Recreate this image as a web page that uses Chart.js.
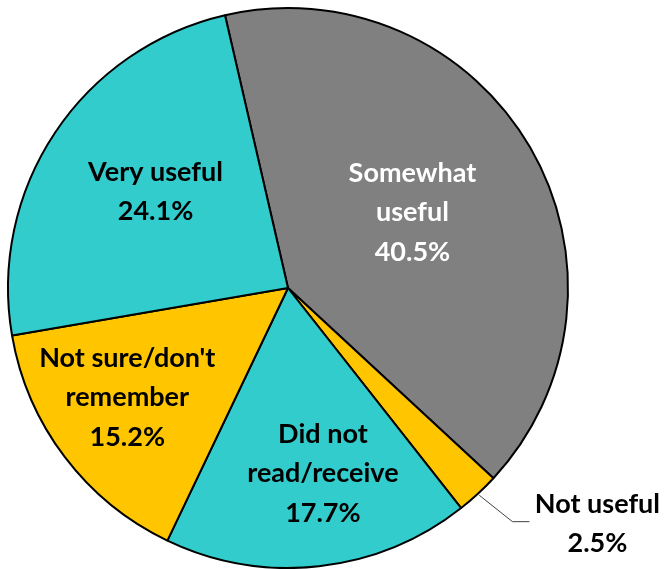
<!DOCTYPE html>
<html>
<head>
<meta charset="utf-8">
<script src="https://cdn.jsdelivr.net/npm/chart.js@4"></script>
<style>
  html, body { margin: 0; padding: 0; background: #fff; }
  #wrap { width: 669px; height: 569px; }
</style>
</head>
<body>
<div id="wrap"><canvas id="pieChart" width="669" height="569"></canvas></div>
<script>
// Données du graphique
const categories = ["Somewhat useful", "Not useful", "Did not read/receive", "Not sure/don't remember", "Very useful"];
const values = [40.5, 2.5, 17.7, 15.2, 24.1];
// Lignes de texte affichées dans chaque part
const labelLines = [
    ["Somewhat", "useful", "40.5%"],
    ["Not useful", "2.5%"],
    ["Did not", "read/receive", "17.7%"],
    ["Not sure/don't", "remember", "15.2%"],
    ["Very useful", "24.1%"]
];

const colors = ['#808080', '#FFC600', '#33CCCC', '#FFC600', '#33CCCC'];
const textColors = ['#FFFFFF', '#000000', '#000000', '#000000', '#000000'];
// position radiale des étiquettes (fraction du rayon), null = étiquette extérieure
const labelRadius = [0.52, null, 0.675, 0.695, 0.585];
const labelAngleShift = [-1.2, 0, -4.3, 2.8, 2.4]; // degrés

const FONT = 'bold 27px Lato, "DejaVu Sans", sans-serif';
const LINE_H = 39.5;

// Plugin pour dessiner les étiquettes des parts
const pieLabels = {
    id: 'pieLabels',
    afterDatasetsDraw(chart) {
        const ctx = chart.ctx;
        const arcs = chart.getDatasetMeta(0).data;
        ctx.save();
        ctx.font = FONT;
        ctx.textAlign = 'center';
        ctx.textBaseline = 'middle';
        arcs.forEach((arc, i) => {
            const p = arc.getProps(['x', 'y', 'startAngle', 'endAngle', 'outerRadius'], true);
            const mid = (p.startAngle + p.endAngle) / 2;
            const lines = labelLines[i];
            let cx, cy;
            if (labelRadius[i] !== null) {
                const a = mid + labelAngleShift[i] * Math.PI / 180;
                cx = p.x + Math.cos(a) * p.outerRadius * labelRadius[i];
                cy = p.y + Math.sin(a) * p.outerRadius * labelRadius[i];
            } else {
                // ligne de rappel vers l'étiquette extérieure
                const x0 = p.x + Math.cos(mid) * (p.outerRadius + 2);
                const y0 = p.y + Math.sin(mid) * (p.outerRadius + 2);
                const x1 = p.x + Math.cos(mid - 0.02) * (p.outerRadius + 44);
                const y1 = p.y + Math.sin(mid - 0.02) * (p.outerRadius + 44);
                const x2 = x1 + 17;
                ctx.strokeStyle = '#404040';
                ctx.lineWidth = 1;
                ctx.beginPath();
                ctx.moveTo(x0, y0);
                ctx.lineTo(x1, y1);
                ctx.lineTo(x2, y1);
                ctx.stroke();
                cx = x2 + 68;
                cy = y1 + 2;
            }
            ctx.fillStyle = textColors[i];
            const top = cy - (lines.length - 1) * LINE_H / 2;
            lines.forEach((t, k) => ctx.fillText(t, cx, top + k * LINE_H));
        });
        ctx.restore();
    }
};

const ctx = document.getElementById('pieChart').getContext('2d');
new Chart(ctx, {
    type: 'pie',
    data: {
        labels: categories,
        datasets: [{
            data: values,
            backgroundColor: colors,
            borderColor: '#000000',
            borderWidth: 2
        }]
    },
    options: {
        responsive: false,
        animation: false,
        rotation: -13,
        layout: { padding: { left: 7, top: 7, right: 100, bottom: 0 } },
        plugins: {
            legend: { display: false },
            tooltip: { enabled: false }
        }
    },
    plugins: [pieLabels]
});
</script>
</body>
</html>
